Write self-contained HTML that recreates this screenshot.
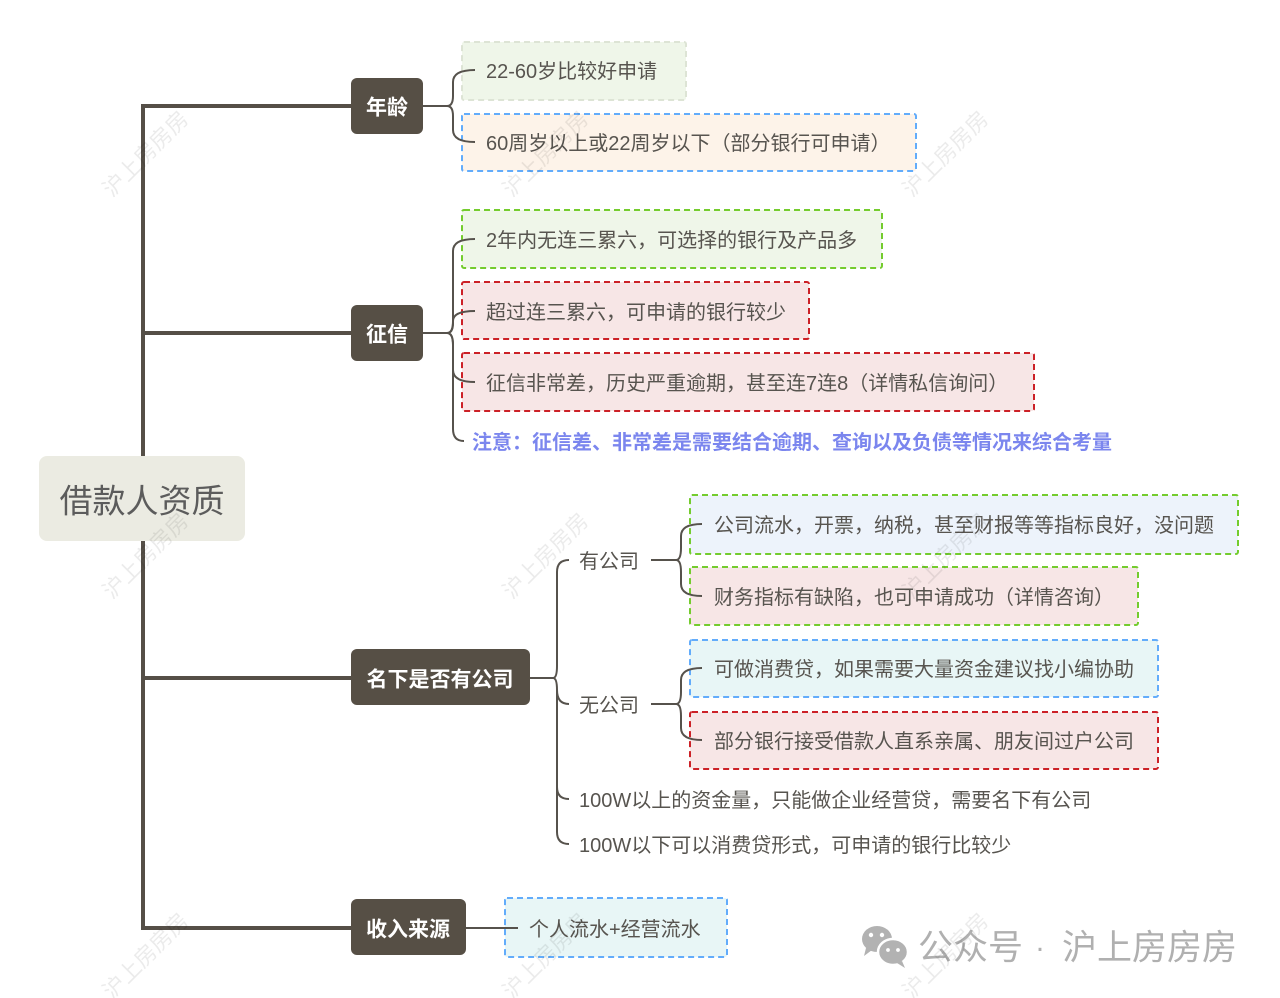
<!DOCTYPE html>
<html>
<head>
<meta charset="utf-8">
<style>
  html, body { margin:0; padding:0; background:#ffffff; }
  body { width:1280px; height:998px; overflow:hidden; }
  svg { display:block; }
  text { font-family: "Liberation Sans", "Noto Sans CJK SC", "WenQuanYi Zen Hei", sans-serif; }
  .t { font-size:20px; fill:#57544f; dominant-baseline:central; }
  .l1 { font-size:21px; fill:#ffffff; font-weight:bold; dominant-baseline:central; text-anchor:middle; }
  .wm { font-size:22px; fill:#000000; fill-opacity:0.08; }
  .c { fill:none; stroke:#56524c; stroke-width:2; }
</style>
</head>
<body>
<svg width="1280" height="998" viewBox="0 0 1280 998" xmlns="http://www.w3.org/2000/svg">
  <!-- trunk -->
  <path d="M352,106 H143 V928 H352" fill="none" stroke="#554f47" stroke-width="4"/>
  <path d="M143,333 H352 M143,678 H352" fill="none" stroke="#554f47" stroke-width="4"/>

  <!-- root -->
  <rect x="39" y="456" width="206" height="85" rx="8" fill="#ebebe2"/>
  <text x="142" y="501" font-size="33" fill="#5c5c5c" text-anchor="middle" dominant-baseline="central">借款人资质</text>

  <!-- Level 1 nodes -->
  <rect x="351" y="78" width="72" height="56" rx="6" fill="#564f45"/>
  <text class="l1" x="387" y="108">年龄</text>
  <rect x="351" y="305" width="72" height="56" rx="6" fill="#564f45"/>
  <text class="l1" x="387" y="335">征信</text>
  <rect x="351" y="649" width="179" height="56" rx="6" fill="#564f45"/>
  <text class="l1" x="440" y="680">名下是否有公司</text>
  <rect x="351" y="899" width="115" height="56" rx="6" fill="#564f45"/>
  <text class="l1" x="408" y="930">收入来源</text>

  <!-- Age children boxes -->
  <rect x="462" y="42" width="224" height="58" rx="2" fill="#eff6e9" stroke="#dde4d5" stroke-width="2" stroke-dasharray="6 4"/>
  <text class="t" x="486" y="72">22-60岁比较好申请</text>
  <rect x="462" y="114" width="454" height="57" rx="2" fill="#fdf3e9" stroke="#62acfb" stroke-width="2" stroke-dasharray="6 4"/>
  <text class="t" x="486" y="144">60周岁以上或22周岁以下（部分银行可申请）</text>

  <!-- Credit children -->
  <rect x="462" y="210" width="420" height="58" rx="2" fill="#eff6e9" stroke="#74cc2e" stroke-width="2" stroke-dasharray="6 4"/>
  <text class="t" x="486" y="241">2年内无连三累六，可选择的银行及产品多</text>
  <rect x="462" y="282" width="347" height="57" rx="2" fill="#f7e6e6" stroke="#cc2127" stroke-width="2" stroke-dasharray="6 4"/>
  <text class="t" x="486" y="313">超过连三累六，可申请的银行较少</text>
  <rect x="462" y="353" width="572" height="58" rx="2" fill="#f7e6e6" stroke="#cc2127" stroke-width="2" stroke-dasharray="6 4"/>
  <text class="t" x="486" y="384">征信非常差，历史严重逾期，甚至连7连8（详情私信询问）</text>
  <text class="t" x="472" y="443" style="fill:#7b86ee;font-weight:bold">注意：征信差、非常差是需要结合逾期、查询以及负债等情况来综合考量</text>

  <!-- Company children -->
  <text class="t" x="579" y="562">有公司</text>
  <text class="t" x="579" y="706">无公司</text>
  <rect x="690" y="495" width="548" height="59" rx="2" fill="#edf3fb" stroke="#74cc2e" stroke-width="2" stroke-dasharray="6 4"/>
  <text class="t" x="714" y="526">公司流水，开票，纳税，甚至财报等等指标良好，没问题</text>
  <rect x="690" y="567" width="448" height="58" rx="2" fill="#f7e6e6" stroke="#74cc2e" stroke-width="2" stroke-dasharray="6 4"/>
  <text class="t" x="714" y="598">财务指标有缺陷，也可申请成功（详情咨询）</text>
  <rect x="690" y="640" width="468" height="57" rx="2" fill="#e8f6f6" stroke="#62acfb" stroke-width="2" stroke-dasharray="6 4"/>
  <text class="t" x="714" y="670">可做消费贷，如果需要大量资金建议找小编协助</text>
  <rect x="690" y="712" width="468" height="57" rx="2" fill="#f7e6e6" stroke="#cc2127" stroke-width="2" stroke-dasharray="6 4"/>
  <text class="t" x="714" y="742">部分银行接受借款人直系亲属、朋友间过户公司</text>
  <text class="t" x="579" y="801">100W以上的资金量，只能做企业经营贷，需要名下有公司</text>
  <text class="t" x="579" y="846">100W以下可以消费贷形式，可申请的银行比较少</text>

  <!-- Income child -->
  <rect x="505" y="898" width="222" height="59" rx="2" fill="#e8f6f6" stroke="#62acfb" stroke-width="2" stroke-dasharray="6 4"/>
  <text class="t" x="529" y="930">个人流水+经营流水</text>

  <!-- connectors -->
  <!-- Age -->
  <path class="c" d="M423,106 H447 Q453,106 453,96 V82 Q453,70 475,70"/>
  <path class="c" d="M447,106 Q453,106 453,116 V130 Q453,142 475,142"/>
  <!-- Credit -->
  <path class="c" d="M423,333 H447 Q453,333 453,321 V251 Q453,239 475,239"/>
  <path class="c" d="M447,333 Q453,333 453,323 V321 Q453,311 475,311"/>
  <path class="c" d="M447,333 Q453,333 453,345 V370 Q453,382 475,382"/>
  <path class="c" d="M447,333 Q453,333 453,345 V429 Q453,441 464,441"/>
  <!-- Company -->
  <path class="c" d="M530,678 H553 Q557,678 557,666 V572 Q557,560 569,560"/>
  <path class="c" d="M553,678 Q557,678 557,690 V832 Q557,844 569,844"/>
  <path class="c" d="M557,690 Q557,704 569,704"/>
  <path class="c" d="M557,787 Q557,799 569,799"/>
  <!-- 有公司 -->
  <path class="c" d="M651,560 H676 Q681,560 681,548 V536 Q681,524 702,524"/>
  <path class="c" d="M676,560 Q681,560 681,572 V584 Q681,596 702,596"/>
  <!-- 无公司 -->
  <path class="c" d="M651,704 H676 Q681,704 681,692 V680 Q681,668 702,668"/>
  <path class="c" d="M676,704 Q681,704 681,716 V728 Q681,740 702,740"/>
  <!-- Income -->
  <path class="c" d="M466,928 H518"/>

  <!-- footer: wechat logo -->
  <g fill="#b2b2b2">
    <ellipse cx="877" cy="939" rx="15" ry="13"/>
    <path d="M866,948 L864,956 L872,950 Z"/>
    <ellipse cx="893" cy="952" rx="15" ry="13" stroke="#ffffff" stroke-width="2.5"/>
    <path d="M902,961 L905,968 L897,963 Z"/>
  </g>
  <g fill="#ffffff">
    <circle cx="871" cy="935" r="2.2"/>
    <circle cx="882" cy="935" r="2.2"/>
    <circle cx="888" cy="950" r="1.9"/>
    <circle cx="898" cy="950" r="1.9"/>
  </g>
  <text x="918" y="948" font-size="35" fill="#b0b0b0" dominant-baseline="central">公众号</text>
  <text x="1035" y="948" font-size="30" fill="#b0b0b0" dominant-baseline="central">·</text>
  <text x="1062" y="948" font-size="35" fill="#b0b0b0" dominant-baseline="central">沪上房房房</text>

  <!-- watermarks (on top) -->
  <g>
    <text class="wm" transform="translate(112,198) rotate(-45)">沪上房房房</text>
    <text class="wm" transform="translate(512,198) rotate(-45)">沪上房房房</text>
    <text class="wm" transform="translate(912,198) rotate(-45)">沪上房房房</text>
    <text class="wm" transform="translate(112,600) rotate(-45)">沪上房房房</text>
    <text class="wm" transform="translate(512,600) rotate(-45)">沪上房房房</text>
    <text class="wm" transform="translate(912,600) rotate(-45)">沪上房房房</text>
    <text class="wm" transform="translate(112,1000) rotate(-45)">沪上房房房</text>
    <text class="wm" transform="translate(512,1000) rotate(-45)">沪上房房房</text>
    <text class="wm" transform="translate(912,1000) rotate(-45)">沪上房房房</text>
  </g>
</svg>
</body>
</html>
